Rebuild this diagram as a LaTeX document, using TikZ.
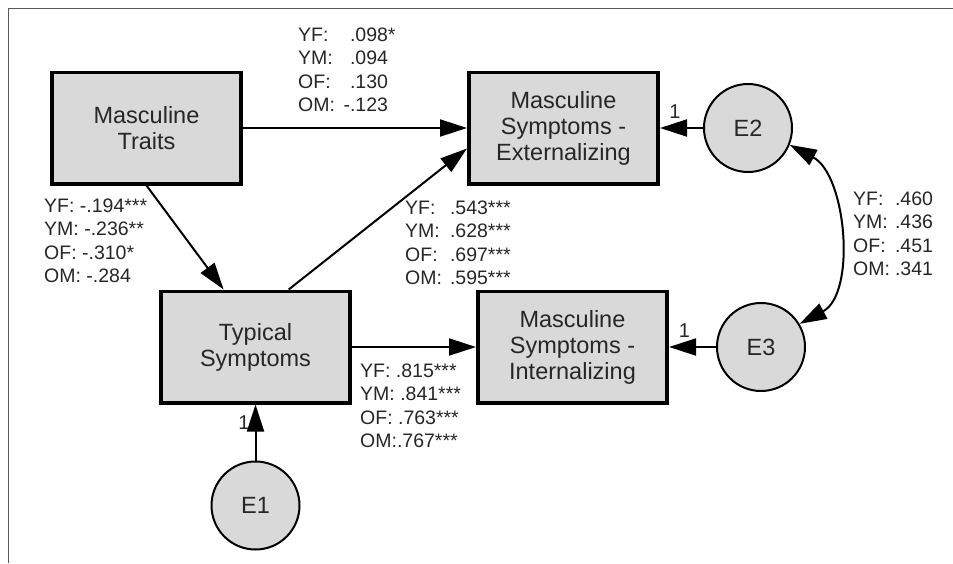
\documentclass[tikz,border=0pt]{standalone}
\usepackage{fontspec}
\setmainfont{Liberation Sans}
\usetikzlibrary{arrows.meta,positioning}
\definecolor{varfill}{rgb}{0.85,0.85,0.85}
\definecolor{txtgray}{rgb}{0.15,0.15,0.15}
\definecolor{framegray}{rgb}{0.35,0.35,0.35}

\begin{document}
\begin{tikzpicture}[x=1pt,y=1pt,>={Triangle[length=27pt,width=17pt]}]
    \tikzstyle{var}=[rectangle,draw=black,line width=3.6pt,fill=varfill,text=txtgray,
    font=\fontsize{23.5}{26}\selectfont,align=center,minimum width=189.4pt,minimum height=111.4pt]

    \tikzstyle{err}=[circle,draw=black,line width=2pt,fill=varfill,text=txtgray,
    font=\fontsize{23.5}{26}\selectfont,minimum size=88pt,inner sep=0pt]

    \tikzstyle{coef}=[font=\fontsize{19.5}{23.5}\selectfont,text=txtgray,inner sep=0pt,anchor=base west]
    \tikzstyle{fix}=[font=\fontsize{20}{22}\selectfont,text=txtgray,inner sep=0pt]
    \tikzstyle{link}=[line width=2pt]

    \useasboundingbox (0,0) rectangle (953,-563);
    \draw[framegray,line width=1.6pt] (953,-8.5) -- (8.5,-8.5) -- (8.5,-563);

    \node[var](masc_traits) at (146.5,-128){Masculine \\ Traits};
    \node[var](masc_ext)[right=224pt of masc_traits]{Masculine \\ Symptoms - \\ Externalizing};
    \node[var](typ_sym) at (255.5,-347){Typical \\ Symptoms};
    \node[var](masc_int)[right=124pt of typ_sym]{Masculine \\ Symptoms - \\ Internalizing};

    \node[err](e2)[right=43pt of masc_ext]{E2};
    \node[err](e3)[right=47pt of masc_int]{E3};
    \node[err](e1)[below=56pt of typ_sym]{E1};

    \node[coef](c_direct) at (298,-41){\begin{tabular}[t]{@{}l@{\hspace{15pt}}l@{}}
      YF: & .098*\\ YM: & .094\\ OF: & .130\\ OM: & \llap{-}.123\end{tabular}};
    \node[coef](c_traits) at (44,-212){\begin{tabular}[t]{@{}l@{}}
      YF: -.194***\\ YM: -.236**\\ OF: -.310*\\ OM: -.284\end{tabular}};
    \node[coef](c_ext) at (405,-214){\begin{tabular}[t]{@{}l@{\hspace{8pt}}l@{}}
      YF: & .543***\\ YM: & .628***\\ OF: & .697***\\ OM: & .595***\end{tabular}};
    \node[coef](c_int) at (360,-377){\begin{tabular}[t]{@{}l@{}}
      YF: .815***\\ YM: .841***\\ OF: .763***\\ OM:.767***\end{tabular}};
    \node[coef](c_err) at (853,-205){\begin{tabular}[t]{@{}l@{\hspace{5pt}}l@{}}
      YF: & .460\\ YM: & .436\\ OF: & .451\\ OM: & .341\end{tabular}};

    \draw[->,link] (masc_traits) -- (masc_ext);
    \draw[->,link] (masc_traits.south) -- (typ_sym.119);
    \draw[->,link] (typ_sym.60) -- (masc_ext.192);
    \draw[->,link] (typ_sym) -- (masc_int);

    \draw[->,link] (e2) -- node[fix,above=9pt,pos=0.65]{1} (masc_ext);
    \draw[->,link] (e3) -- node[fix,above=9pt,pos=0.67]{1} (masc_int);
    \draw[->,link] (e1) -- node[fix,left=5pt,pos=0.68]{1} (typ_sym);

    \draw[<->,link] (e2.-22) to[out=-28,in=28,looseness=0.92] (e3.31);
  \end{tikzpicture}
\end{document}
